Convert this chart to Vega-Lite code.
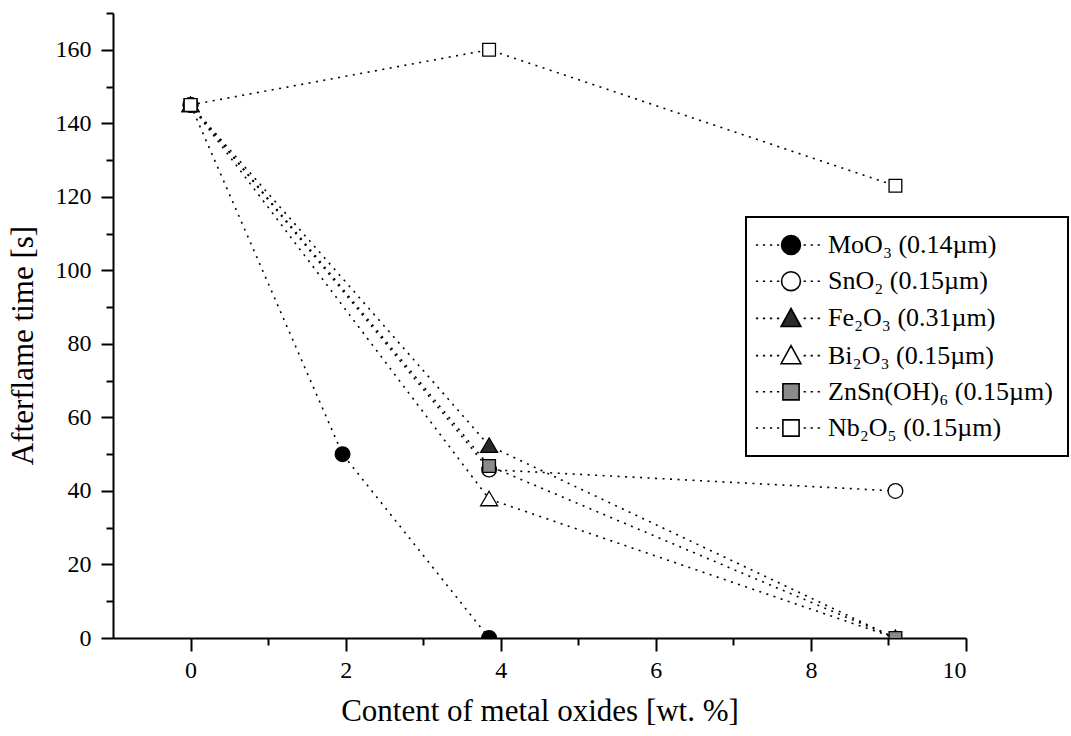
{
  "$schema": "https://vega.github.io/schema/vega-lite/v6.json",
  "autosize": {"type": "none"},
  "padding": {"left": 113, "top": 13, "right": 105, "bottom": 98},
  "width": 853,
  "height": 625,
  "background": "white",
  "data": {
    "values": [
      {"series": "MoO₃ (0.14µm)", "x": 0, "y": 145},
      {"series": "MoO₃ (0.14µm)", "x": 1.96, "y": 50},
      {"series": "MoO₃ (0.14µm)", "x": 3.85, "y": 0},
      {"series": "SnO₂ (0.15µm)", "x": 0, "y": 145},
      {"series": "SnO₂ (0.15µm)", "x": 3.85, "y": 45.8},
      {"series": "SnO₂ (0.15µm)", "x": 9.09, "y": 40},
      {"series": "Fe₂O₃ (0.31µm)", "x": 0, "y": 145},
      {"series": "Fe₂O₃ (0.31µm)", "x": 3.85, "y": 52.3},
      {"series": "Fe₂O₃ (0.31µm)", "x": 9.09, "y": 0},
      {"series": "Bi₂O₃ (0.15µm)", "x": 0, "y": 145},
      {"series": "Bi₂O₃ (0.15µm)", "x": 3.85, "y": 37.8},
      {"series": "Bi₂O₃ (0.15µm)", "x": 9.09, "y": 0},
      {"series": "ZnSn(OH)₆ (0.15µm)", "x": 0, "y": 145},
      {"series": "ZnSn(OH)₆ (0.15µm)", "x": 3.85, "y": 46.8},
      {"series": "ZnSn(OH)₆ (0.15µm)", "x": 9.09, "y": 0},
      {"series": "Nb₂O₅ (0.15µm)", "x": 0, "y": 145},
      {"series": "Nb₂O₅ (0.15µm)", "x": 3.85, "y": 160},
      {"series": "Nb₂O₅ (0.15µm)", "x": 9.09, "y": 123}
    ]
  },
  "layer": [
    {
      "mark": {"type": "line", "color": "black", "strokeWidth": 1.6, "strokeDash": [2, 5.5], "clip": true},
      "encoding": {
        "x": {"field": "x", "type": "quantitative", "scale": {"domain": [-1, 10], "nice": false, "zero": false},
          "axis": {"values": [0, 2, 4, 6, 8, 10], "tickSize": 13, "labelPadding": 7, "labelFont": "Liberation Serif", "title": "Content of metal oxides [wt. %]", "titlePadding": 14, "orient": "bottom"}},
        "y": {"field": "y", "type": "quantitative", "scale": {"domain": [0, 170], "nice": false},
          "axis": {"values": [0, 20, 40, 60, 80, 100, 120, 140, 160], "tickSize": 12, "labelPadding": 10, "labelFont": "Liberation Serif", "title": "Afterflame time [s]", "titleX": -74, "titleY": 332, "titleAngle": 270, "titleBaseline": "bottom", "titleAlign": "center", "orient": "left"}},
        "detail": {"field": "series"}
      }
    },
    {
      "mark": {"type": "point", "filled": true, "stroke": "black", "strokeWidth": 1.3, "size": 200, "opacity": 1, "clip": true},
      "encoding": {
        "x": {"field": "x", "type": "quantitative",
          "axis": {"values": [1, 3, 5, 7, 9], "tickSize": 7, "labels": false, "domain": false, "title": null, "orient": "bottom"}},
        "y": {"field": "y", "type": "quantitative",
          "axis": {"values": [10, 30, 50, 70, 90, 110, 130, 150, 170], "tickSize": 7, "labels": false, "domain": false, "title": null, "orient": "left"}},
        "shape": {"field": "series", "type": "nominal", "legend": null,
          "scale": {"domain": ["MoO₃ (0.14µm)", "SnO₂ (0.15µm)", "Fe₂O₃ (0.31µm)", "Bi₂O₃ (0.15µm)", "ZnSn(OH)₆ (0.15µm)", "Nb₂O₅ (0.15µm)"],
            "range": ["M1.04 0A1.04 1.04 0 1 1 -1.04 0A1.04 1.04 0 1 1 1.04 0Z", "M1.04 0A1.04 1.04 0 1 1 -1.04 0A1.04 1.04 0 1 1 1.04 0Z", "M0 -1.1L1.2 0.95L-1.2 0.95Z", "M0 -1.1L1.2 0.95L-1.2 0.95Z", "M-0.9 -0.9L0.9 -0.9L0.9 0.9L-0.9 0.9Z", "M-0.9 -0.9L0.9 -0.9L0.9 0.9L-0.9 0.9Z"]}},
        "fill": {"field": "series", "type": "nominal", "legend": null,
          "scale": {"domain": ["MoO₃ (0.14µm)", "SnO₂ (0.15µm)", "Fe₂O₃ (0.31µm)", "Bi₂O₃ (0.15µm)", "ZnSn(OH)₆ (0.15µm)", "Nb₂O₅ (0.15µm)"],
            "range": ["black", "white", "#2a2a2a", "white", "#8a8a8a", "white"]}}
      }
    },
    {
      "mark": {"type": "point", "filled": true, "stroke": "black", "strokeWidth": 1.6, "size": 1, "opacity": 0},
      "encoding": {
        "x": {"field": "x", "type": "quantitative", "axis": null},
        "y": {"field": "y", "type": "quantitative", "axis": null},
        "shape": {"field": "series", "type": "nominal",
          "scale": {"domain": ["MoO₃ (0.14µm)", "SnO₂ (0.15µm)", "Fe₂O₃ (0.31µm)", "Bi₂O₃ (0.15µm)", "ZnSn(OH)₆ (0.15µm)", "Nb₂O₅ (0.15µm)"],
            "range": [
              "M-3.9 0L-3.65 0M-3.12 0L-2.87 0M-2.34 0L-2.09 0M-1.56 0L-1.31 0M1.4 0L1.65 0M2.18 0L2.43 0M2.96 0L3.21 0M1.05 0A1.05 1.05 0 1 1 -1.05 0A1.05 1.05 0 1 1 1.05 0Z",
              "M-3.9 0L-3.65 0M-3.12 0L-2.87 0M-2.34 0L-2.09 0M-1.56 0L-1.31 0M1.4 0L1.65 0M2.18 0L2.43 0M2.96 0L3.21 0M1.05 0A1.05 1.05 0 1 1 -1.05 0A1.05 1.05 0 1 1 1.05 0Z",
              "M-3.9 0L-3.65 0M-3.12 0L-2.87 0M-2.34 0L-2.09 0M-1.56 0L-1.31 0M1.4 0L1.65 0M2.18 0L2.43 0M2.96 0L3.21 0M0 -1.1L1.1 0.9L-1.1 0.9Z",
              "M-3.9 0L-3.65 0M-3.12 0L-2.87 0M-2.34 0L-2.09 0M-1.56 0L-1.31 0M1.4 0L1.65 0M2.18 0L2.43 0M2.96 0L3.21 0M0 -1.1L1.1 0.9L-1.1 0.9Z",
              "M-3.9 0L-3.65 0M-3.12 0L-2.87 0M-2.34 0L-2.09 0M-1.56 0L-1.31 0M1.4 0L1.65 0M2.18 0L2.43 0M2.96 0L3.21 0M-0.9 -0.9L0.9 -0.9L0.9 0.9L-0.9 0.9Z",
              "M-3.9 0L-3.65 0M-3.12 0L-2.87 0M-2.34 0L-2.09 0M-1.56 0L-1.31 0M1.4 0L1.65 0M2.18 0L2.43 0M2.96 0L3.21 0M-0.9 -0.9L0.9 -0.9L0.9 0.9L-0.9 0.9Z"
            ]},
          "legend": {"orient": "none", "legendX": 633, "legendY": 204, "title": null, "symbolOpacity": 1}},
        "fill": {"field": "series", "type": "nominal",
          "scale": {"domain": ["MoO₃ (0.14µm)", "SnO₂ (0.15µm)", "Fe₂O₃ (0.31µm)", "Bi₂O₃ (0.15µm)", "ZnSn(OH)₆ (0.15µm)", "Nb₂O₅ (0.15µm)"],
            "range": ["black", "white", "#2a2a2a", "white", "#8a8a8a", "white"]},
          "legend": {"orient": "none", "legendX": 633, "legendY": 204, "title": null, "symbolOpacity": 1}}
      }
    }
  ],
  "resolve": {"axis": {"x": "independent", "y": "independent"}, "scale": {"shape": "independent", "fill": "independent"}},
  "config": {
    "view": {"stroke": null},
    "font": "Liberation Serif",
    "style": {"guide-label": {"font": "Liberation Serif", "fill": "black"}, "guide-title": {"font": "Liberation Serif", "fill": "black"}},
    "legend": {
      "strokeWidth": 2, "strokeColor": "black", "fillColor": "white", "padding": 15,
      "labelFont": "Liberation Serif", "labelFontSize": 26, "labelColor": "black", "labelLimit": 400,
      "symbolSize": 324, "symbolStrokeWidth": 1.6,
      "symbolOffset": 17, "labelOffset": 24, "rowPadding": 10.2
    },
    "axis": {
      "labelFont": "Liberation Serif", "titleFont": "Liberation Serif",
      "labelFontSize": 24, "titleFontSize": 31, "titleFontWeight": "normal",
      "labelColor": "black", "titleColor": "black",
      "domainColor": "black", "domainWidth": 2, "tickColor": "black", "tickWidth": 2, "grid": false
    }
  }
}
